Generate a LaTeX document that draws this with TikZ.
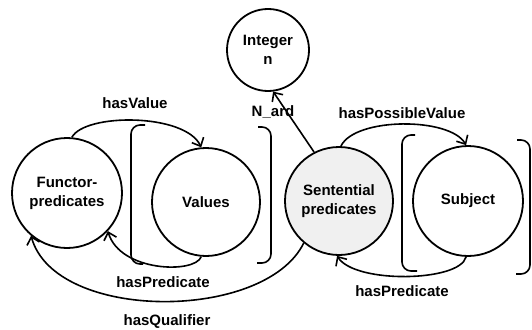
\documentclass[tikz,border=0pt]{standalone}
\usepackage{fontspec}
\setmainfont{Liberation Sans}
\usetikzlibrary{arrows.meta}
\begin{document}
\begin{tikzpicture}[x=1pt,y=-1pt,
  every node/.style={font=\fontsize{15}{19}\selectfont\bfseries},
  ent/.style={draw,circle,line width=1.8pt,inner sep=0pt,align=center},
  conn/.style={line width=1.6pt,-{Straight Barb[length=7pt,width=13pt,line width=1.6pt]}},
  brk/.style={line width=1.6pt,rounded corners=9pt},
  lbl/.style={inner sep=1pt}]
\useasboundingbox (0,0) rectangle (532,329);
\node[ent,minimum size=82pt] (I) at (268,50) {Integer\\n};
\node[ent,minimum size=110pt] (F) at (67,193) {Functor-\\predicates};
\node[ent,minimum size=108pt] (V) at (206,202) {Values};
\node[ent,minimum size=108pt,fill=gray!12] (S) at (339,201) {Sentential\\predicates};
\node[ent,minimum size=110pt] (U) at (468,201) {Subject};
% brackets
\draw[brk] (145,125) -- (131,125) -- (131,264) -- (143,264);
\draw[brk] (258,127) -- (271,127) -- (271,263) -- (257,263);
\draw[brk] (415,135) -- (402,135) -- (402,271) -- (417,271);
\draw[brk] (517,140) -- (530,140) -- (530,274) -- (516,274);
% connectors
\draw[conn] (F.85) .. controls (85,113) and (185,113) .. (V.95);
\draw[conn] (S.88) .. controls (355,117) and (450,117) .. (U.92);
\draw[conn] (S.117) -- (I.277);
\draw[conn] (V.265) .. controls (195,274) and (120,272) .. (F.317);
\draw[conn] (U.268) .. controls (460,282) and (355,284) .. (S.268);
\draw[conn] (S.230) .. controls (265,322) and (55,322) .. (F.230);
% labels
\node[lbl] (lv) at (135,103) {hasValue};
\node[lbl] (lpv) at (402,113) {hasPossibleValue};
\node[lbl] (ln) at (273,112) {N\_ard};
\node[lbl] (lp1) at (163,282) {hasPredicate};
\node[lbl] (lp2) at (402,291) {hasPredicate};
\node[lbl] (lq) at (167,322) {hasQualifier};
\end{tikzpicture}
\end{document}
